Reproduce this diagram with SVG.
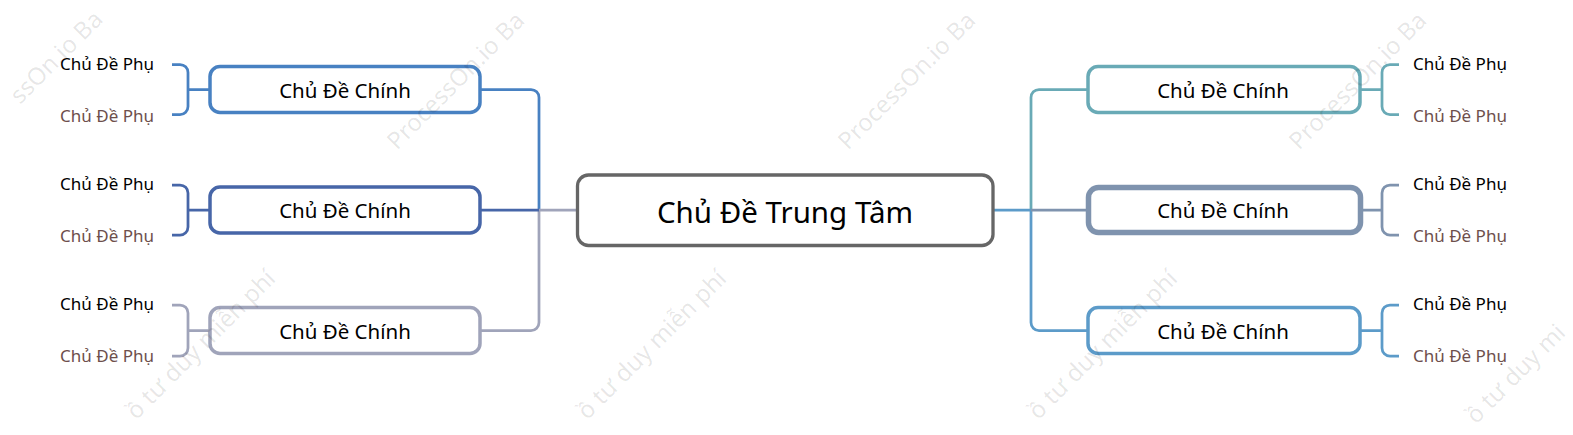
<svg xmlns="http://www.w3.org/2000/svg" width="1573" height="435" viewBox="0 0 1573 435">
  <style>
    text { font-family: "Noto Sans", "Open Sans", "DejaVu Sans", sans-serif; }
    .node { fill: #ffffff; stroke-width: 3.5; }
    .center { fill: #ffffff; stroke: #666666; stroke-width: 3.3; }
    .main-label { font-size: 20.5px; fill: #000000; text-anchor: middle; }
    .center-label { font-size: 29.5px; fill: #000000; text-anchor: middle; }
    .sub { font-size: 17px; }
    .sub-top { fill: #000000; }
    .sub-bot { fill: #6e4f4c; }
    .left-sub { text-anchor: end; }
    .right-sub { text-anchor: start; }
    .conn { fill: none; stroke-width: 2.75; stroke-linecap: butt; }
    .wm { font-size: 24px; fill: #000000; fill-opacity: 0.1; }
    .c-l1 { stroke: #4881c2; }
    .c-l2 { stroke: #4766a8; }
    .c-l3 { stroke: #a0a4ba; }
    .c-r1 { stroke: #69aab6; }
    .c-r2 { stroke: #7f93ae; }
    .c-r3 { stroke: #5c9bc9; }
  </style>
  <rect x="0" y="0" width="1573" height="435" fill="#ffffff"/>

  <g id="connectors">
    <!-- left trunk -->
    <path class="conn c-l1" d="M480,89.5 H531 A8,8 0 0 1 539,97.5 V210"/>
    <path class="conn c-l3" d="M480,330.5 H531 A8,8 0 0 0 539,322.5 V210"/>
    <path class="conn c-l3" d="M539,210 H577"/>
    <path class="conn c-l2" d="M480,210 H539"/>
    <!-- right trunk -->
    <path class="conn c-r1" d="M1031,210 V97.5 A8,8 0 0 1 1039,89.5 H1088"/>
    <path class="conn c-r3" d="M1031,210 V322.5 A8,8 0 0 0 1039,330.5 H1088"/>
    <path class="conn c-r3" d="M993,210 H1031"/>
    <path class="conn c-r2" d="M1031,210 H1088"/>
    <!-- left brackets -->
    <path class="conn c-l1" d="M172,64.5 H180 A8,8 0 0 1 188,72.5 V106.5 A8,8 0 0 1 180,114.5 H172 M188,89.5 H210"/>
    <path class="conn c-l2" d="M172,185 H180 A8,8 0 0 1 188,193 V227 A8,8 0 0 1 180,235 H172 M188,210 H210"/>
    <path class="conn c-l3" d="M172,305 H180 A8,8 0 0 1 188,313 V348 A8,8 0 0 1 180,356 H172 M188,330.5 H210"/>
    <!-- right brackets -->
    <path class="conn c-r1" d="M1399,64.5 H1390 A8,8 0 0 0 1382,72.5 V106.5 A8,8 0 0 0 1390,114.5 H1399 M1360,89.5 H1382"/>
    <path class="conn c-r2" d="M1399,185 H1390 A8,8 0 0 0 1382,193 V227 A8,8 0 0 0 1390,235 H1399 M1360,210 H1382"/>
    <path class="conn c-r3" d="M1399,305 H1390 A8,8 0 0 0 1382,313 V348 A8,8 0 0 0 1390,356 H1399 M1360,330.5 H1382"/>
  </g>

  <g id="center">
    <rect class="center" x="577.5" y="175" width="415.5" height="70.5" rx="11"/>
    <text class="center-label" x="785" y="222.5">Chủ Đề Trung Tâm</text>
  </g>

  <g id="main-left-1">
    <rect class="node c-l1" x="210" y="66.5" width="270" height="46" rx="10"/>
    <text class="main-label" x="345" y="97.5">Chủ Đề Chính</text>
  </g>
  <g id="main-left-2">
    <rect class="node c-l2" x="210" y="187" width="270" height="46" rx="10"/>
    <text class="main-label" x="345" y="218">Chủ Đề Chính</text>
  </g>
  <g id="main-left-3">
    <rect class="node c-l3" x="210" y="307.5" width="270" height="46" rx="10"/>
    <text class="main-label" x="345" y="338.5">Chủ Đề Chính</text>
  </g>
  <g id="main-right-1">
    <rect class="node c-r1" x="1088" y="66.5" width="272" height="46" rx="10"/>
    <text class="main-label" x="1223" y="97.5">Chủ Đề Chính</text>
  </g>
  <g id="main-right-2">
    <rect class="node c-r2" x="1088.5" y="187.5" width="272" height="45" rx="10" style="stroke-width:5.5"/>
    <text class="main-label" x="1223" y="218">Chủ Đề Chính</text>
  </g>
  <g id="main-right-3">
    <rect class="node c-r3" x="1088" y="307.5" width="272" height="46" rx="10"/>
    <text class="main-label" x="1223" y="338.5">Chủ Đề Chính</text>
  </g>

  <g id="sub-left-1">
    <text class="sub sub-top left-sub" x="154" y="69.5">Chủ Đề Phụ</text>
    <text class="sub sub-bot left-sub" x="154" y="122">Chủ Đề Phụ</text>
  </g>
  <g id="sub-left-2">
    <text class="sub sub-top left-sub" x="154" y="189.5">Chủ Đề Phụ</text>
    <text class="sub sub-bot left-sub" x="154" y="242">Chủ Đề Phụ</text>
  </g>
  <g id="sub-left-3">
    <text class="sub sub-top left-sub" x="154" y="309.5">Chủ Đề Phụ</text>
    <text class="sub sub-bot left-sub" x="154" y="362">Chủ Đề Phụ</text>
  </g>
  <g id="sub-right-1">
    <text class="sub sub-top right-sub" x="1413" y="69.5">Chủ Đề Phụ</text>
    <text class="sub sub-bot right-sub" x="1413" y="122">Chủ Đề Phụ</text>
  </g>
  <g id="sub-right-2">
    <text class="sub sub-top right-sub" x="1413" y="189.5">Chủ Đề Phụ</text>
    <text class="sub sub-bot right-sub" x="1413" y="242">Chủ Đề Phụ</text>
  </g>
  <g id="sub-right-3">
    <text class="sub sub-top right-sub" x="1413" y="309.5">Chủ Đề Phụ</text>
    <text class="sub sub-bot right-sub" x="1413" y="362">Chủ Đề Phụ</text>
  </g>

  <g id="watermark">
    <text class="wm" transform="translate(20,105) rotate(-45)">ssOn.io Ba</text>
    <text class="wm" transform="translate(397,151) rotate(-45)">ProcessOn.io Ba</text>
    <text class="wm" transform="translate(848,151) rotate(-45)">ProcessOn.io Ba</text>
    <text class="wm" transform="translate(1299,151) rotate(-45)">ProcessOn.io Ba</text>
    <text class="wm" text-anchor="end" transform="translate(277,280) rotate(-45)">ồ tư duy miễn phí</text>
    <text class="wm" text-anchor="end" transform="translate(728,280) rotate(-45)">ồ tư duy miễn phí</text>
    <text class="wm" text-anchor="end" transform="translate(1179,280) rotate(-45)">ồ tư duy miễn phí</text>
    <text class="wm" transform="translate(1476,425) rotate(-45)">ồ tư duy mi</text>
  </g>
</svg>
